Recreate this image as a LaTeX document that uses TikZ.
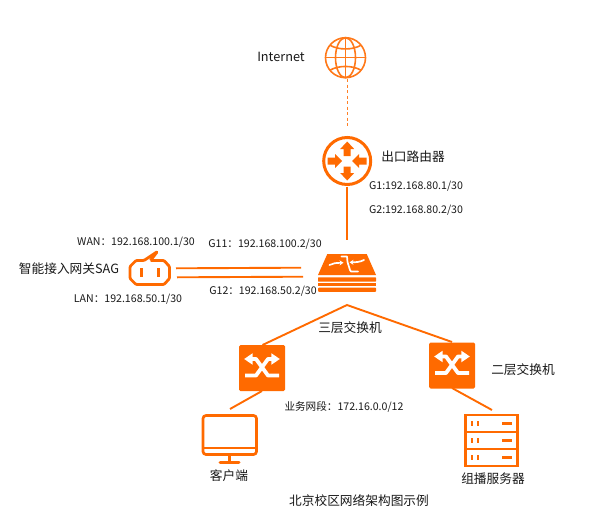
\documentclass[tikz,border=0pt]{standalone}
\usepackage{fontspec}
\setmainfont{Noto Sans CJK SC}
\usetikzlibrary{arrows.meta}
\definecolor{org}{HTML}{FF6A00}
\tikzset{
  lab/.style={font=\fontsize{12.7}{14}\selectfont,text=black!90,inner sep=0pt},
  small/.style={font=\fontsize{10.6}{12}\selectfont,text=black!90,inner sep=0pt},
  link/.style={draw=org,line width=1.9pt},
}
\begin{document}
\begin{tikzpicture}[x=1pt,y=-1pt]
\useasboundingbox (0,0) rectangle (605,519);
\fill[white] (0,0) rectangle (605,519);
% coordinates
\coordinate (globeB) at (347,79);
\coordinate (routerT) at (347,128);
\coordinate (routerB) at (347,187);
\coordinate (l3T) at (347,240);
\coordinate (sagA) at (176,268.3);
\coordinate (sagB) at (177,277.3);
\coordinate (l3A) at (301,267.7);
\coordinate (l3B) at (303,276.7);
\coordinate (peak) at (347,305);
\coordinate (swLT) at (262.5,345);
\coordinate (swRT) at (452,342);
\coordinate (swLB) at (262,391);
\coordinate (swRB) at (452,388);
\coordinate (pc) at (230,409);
\coordinate (srv) at (492,410);
% links
\draw[org!85,line width=1pt,dash pattern=on 3pt off 2.5pt] (globeB) -- (routerT);
\draw[link,line width=2.6pt] (routerB) -- (l3T);
\draw[link] (sagA) -- (l3A);
\draw[link] (sagB) -- (l3B);
\draw[link] (swLT) -- (peak) -- (swRT);
\draw[link] (swLB) -- (pc);
\draw[link] (swRB) -- (srv);
% globe
\begin{scope}[shift={(345.5,57.7)},org!90,line width=1.6pt]
\draw (0,0) circle (20);
\draw (0,0) ellipse (10 and 20);
\draw (0,-20) -- (0,20);
\draw (-20,0) -- (20,0);
\draw (-15.5,-12.5) .. controls (-7,-7.5) and (7,-7.5) .. (15.5,-12.5);
\draw (-15.5,12.5) .. controls (-7,7.5) and (7,7.5) .. (15.5,12.5);
\end{scope}
% router
\begin{scope}[shift={(347.2,161)}]
\draw[org,line width=3pt] (0,0) circle (23.5);
\fill[org] (-3.5,-5) -- (3.5,-5) -- (3.5,-12) -- (7,-12) -- (0,-19.5) -- (-7,-12) -- (-3.5,-12) -- cycle;
\fill[org] (-3.5,5.5) -- (3.5,5.5) -- (3.5,12) -- (7,12) -- (0,19.5) -- (-7,12) -- (-3.5,12) -- cycle;
\fill[org] (-19.5,-3.5) -- (-12,-3.5) -- (-12,-7) -- (-5,0) -- (-12,7) -- (-12,3.5) -- (-19.5,3.5) -- cycle;
\fill[org] (19.5,-3.5) -- (12,-3.5) -- (12,-7) -- (5,0) -- (12,7) -- (12,3.5) -- (19.5,3.5) -- cycle;
\end{scope}
% L3 switch
\fill[org] (327.3,254) -- (366.7,254) -- (376,275) -- (318,275) -- cycle;
\fill[org,rounded corners=.6pt] (318,277.3) rectangle (376,281.7);
\fill[org] (318,283.3) rectangle (376,286);
\fill[org,rounded corners=.8pt] (318,287.7) rectangle (376,291.8);
\draw[white,line width=1.7pt,line cap=round,-{Stealth[width=5pt,length=4pt]}] (329.5,265) .. controls (333,263) and (336,263) .. (343.5,262.7);
\draw[white,line width=1.7pt,line cap=round,line join=round] (341.5,256.5) -- (347,256.5) -- (347.5,262) -- (350,270) -- (351,271.5) -- (358,271.5);
\draw[white,line width=1.7pt,line cap=round,-{Stealth[width=5pt,length=4pt]}] (364,260) .. controls (360,262) and (356,262.3) .. (349.5,262.3);
% SAG
\begin{scope}[org,line width=2.8pt,line join=round]
\draw[rounded corners=1pt] (150.5,260.5) -- (164,260.5) -- (169.5,266.5) -- (169.5,278.5) -- (164,284.5) -- (136,284.5) -- (130,278.5) -- (130,266.5) -- (136,260.5) -- (144,260.5) -- (157.5,251.5) -- (150.5,260.5);
\draw (141.7,268) -- (141.7,276.5);
\draw (158.3,268) -- (158.3,276.5);
\end{scope}
% layer-2 switches
\foreach \nm/\cx/\cy in {L/262/368,R/452/365.5}{
\begin{scope}[shift={(\cx,\cy)}]
\fill[org,rounded corners=1.5pt] (-23,-23) rectangle (23,23);
\draw[white,line width=3.8pt,line join=round] (-17,7.5) -- (-6,7.5) -- (6,-9) -- (10,-9);
\draw[white,line width=3.8pt,line join=round] (17,7.5) -- (6,7.5) -- (-6,-9) -- (-10,-9);
\fill[white] (-17.8,-9) -- (-9.3,-14.8) -- (-9.3,-3.2) -- cycle;
\fill[white] (17.8,-9) -- (9.3,-14.8) -- (9.3,-3.2) -- cycle;
\end{scope}}
% monitor
\draw[org,line width=2.7pt,rounded corners=3pt] (203,415.5) rectangle (256.5,454.5);
\draw[org,line width=2.2pt] (203,448) -- (256.5,448);
\draw[org,line width=2.7pt] (229.5,455) -- (229.5,462);
\draw[org,line width=3pt,line cap=round] (220,462.5) -- (239,462.5);
% server
\draw[org,line width=2.2pt] (465.5,415) rectangle (517.5,466);
\draw[org,line width=2.2pt] (465.5,432) -- (517.5,432);
\draw[org,line width=2.2pt] (465.5,449) -- (517.5,449);
\foreach \y in {423.5,440.5,457.5}{
  \draw[org,line width=2.2pt] (472,\y-2.5) -- (472,\y+2.5);
  \draw[org,line width=2.2pt] (478,\y-2.5) -- (478,\y+2.5);
  \draw[org,line width=2.2pt] (502,\y) -- (512,\y);
}
% labels
\node[lab] (t1) at (281,56.5) {Internet};
\node[lab] (t2) at (413,157) {出口路由器};
\node[small] (t3) at (416,186) {G1:192.168.80.1/30};
\node[small] (t4) at (416,210) {G2:192.168.80.2/30};
\node[small] (t5) at (265,244) {G11：192.168.100.2/30};
\node[small] (t6) at (136,242) {WAN：192.168.100.1/30};
\node[lab] (t7) at (69,269) {智能接入网关SAG};
\node[small] (t8) at (128,299) {LAN：192.168.50.1/30};
\node[small] (t9) at (263,291) {G12：192.168.50.2/30};
\node[lab] (t10) at (350,328) {三层交换机};
\node[lab] (t11) at (523,370) {二层交换机};
\node[small] (t12) at (344,407) {业务网段：172.16.0.0/12};
\node[lab] (t13) at (229,476) {客户端};
\node[lab] (t14) at (493,479) {组播服务器};
\node[lab] (t15) at (359,501) {北京校区网络架构图示例};
\end{tikzpicture}
\end{document}
